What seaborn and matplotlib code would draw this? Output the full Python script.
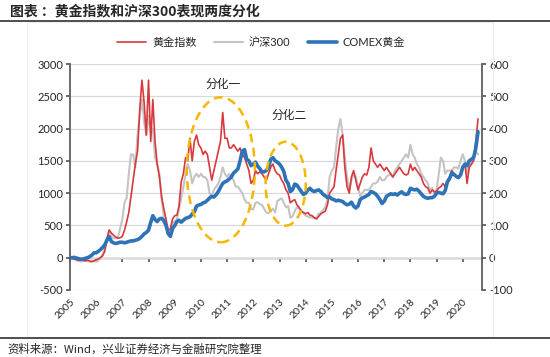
import pandas as pd
import matplotlib
matplotlib.use('Agg')
import matplotlib.pyplot as plt
import matplotlib.dates as mdates
from matplotlib.patches import Ellipse
import seaborn as sns

# monthly values (Jan 2005 .. Aug 2020)
gold_index = [
    0, -10, -20, -30, -40, -30, -40, -50, -40, -50, -60, -50,
    -30, -20, 0, 30, 100, 300, 430, 380, 350, 320, 300, 310,
    330, 430, 550, 700, 950, 1200, 1450, 1650, 2300, 2750, 2400, 1900,
    2750, 1800, 2450, 1800, 1450, 1250, 950, 760, 600, 420, 450, 600,
    650, 660, 800, 1175, 1300, 1550, 1500, 1850, 1500, 1800, 1900, 1750,
    1700, 1600, 1650, 1600, 1400, 1200, 1350, 1500, 1650, 1800, 2250, 1850,
    1850, 1700, 1700, 1750, 1700, 1650, 1700, 1600, 1550, 1450, 1350, 1150,
    1200, 1350, 1300, 1330, 1300, 1250, 1200, 1300, 1400, 1450, 1350, 1300,
    1280, 1200, 1150, 1050, 1000, 850, 880, 900, 820, 780, 720, 700,
    680, 700, 660, 650, 620, 600, 640, 680, 700, 720, 820, 1000,
    1050, 1100, 1350, 1600, 1850, 1900, 1400, 1100, 1000, 1250, 1350, 1200,
    1050, 1150, 1250, 1300, 1280, 1400, 1700, 1500, 1450, 1400, 1450, 1400,
    1350, 1400, 1350, 1300, 1250, 1300, 1350, 1400, 1350, 1300, 1280, 1300,
    1450, 1350, 1400, 1350, 1300, 1250, 1150, 1100, 1080, 1000, 1050, 1020,
    1030, 1080, 1100, 1150, 1100, 1200, 1250, 1350, 1300, 1250, 1250, 1300,
    1400, 1450, 1150, 1400, 1450, 1500, 1800, 2150,
]

hs300 = [
    0, -10, -20, -40, -50, -60, -50, -40, -50, -60, -60, -50,
    -60, -40, 0, 50, 150, 280, 380, 330, 300, 300, 320, 450,
    600, 860, 920, 1300, 1600, 1600, 1400, 1900, 2200, 2450, 2100, 1900,
    2200, 1950, 2000, 1550, 1450, 1300, 900, 650, 500, 350, 400, 550,
    560, 600, 750, 920, 1100, 1300, 1450, 1350, 1150, 1250, 1300, 1250,
    1300, 1250, 1250, 1200, 1000, 950, 1050, 1100, 1150, 1250, 1400, 1300,
    1250, 1300, 1250, 1200, 1100, 1100, 1050, 1000, 900, 850, 850, 750,
    750, 850, 860, 830, 820, 760, 700, 690, 720, 760, 700, 880,
    900, 920, 850, 780, 800, 620, 640, 720, 780, 760, 730, 690,
    650, 640, 620, 630, 610, 620, 680, 700, 740, 780, 900, 1250,
    1350, 1400, 1700, 2000, 2150, 1900, 1550, 1250, 1050, 1200, 1300, 1250,
    1100, 950, 1000, 1050, 1050, 1050, 1100, 1150, 1150, 1180, 1250, 1200,
    1200, 1250, 1280, 1300, 1250, 1350, 1400, 1450, 1500, 1550, 1600, 1550,
    1750, 1600, 1550, 1450, 1400, 1300, 1250, 1200, 1150, 1050, 1080, 1000,
    1050, 1300, 1550, 1500, 1300, 1350, 1350, 1350, 1400, 1400, 1380, 1500,
    1600, 1500, 1300, 1450, 1450, 1550, 1650, 1600,
]

comex_gold = [
    0, 0, 1, -1, -3, -5, -4, -2, 0, 3, 8, 15,
    15, 20, 25, 32, 40, 55, 65, 50, 46, 44, 46, 48,
    48, 46, 48, 50, 52, 52, 54, 56, 60, 66, 74, 78,
    85, 110, 130, 118, 112, 120, 122, 115, 100, 75, 66, 90,
    100, 112, 116, 110, 116, 122, 124, 127, 135, 142, 160, 163,
    165, 170, 172, 178, 185, 190, 188, 195, 205, 218, 230, 235,
    238, 244, 250, 262, 268, 275, 300, 330, 335, 305, 300, 285,
    290, 296, 284, 276, 266, 266, 270, 280, 305, 310, 300, 296,
    290, 280, 268, 240, 230, 205, 210, 228, 225, 215, 205, 196,
    200, 210, 215, 208, 205, 208, 210, 205, 196, 192, 186, 188,
    182, 180, 176, 178, 176, 174, 168, 164, 166, 172, 160, 154,
    160, 180, 185, 188, 192, 196, 205, 202, 198, 190, 180, 168,
    175, 190, 194, 198, 196, 198, 194, 200, 204, 198, 196, 198,
    215, 212, 210, 212, 206, 198, 190, 186, 184, 186, 186, 190,
    200, 202, 200, 198, 208, 235, 245, 262, 258, 252, 248, 256,
    280, 290, 285, 300, 305, 310, 340, 390,
]

dates = pd.date_range('2005-01-01', periods=len(gold_index), freq='MS')
df = pd.DataFrame({'date': dates, '黄金指数': gold_index,
                   '沪深300': hs300, 'COMEX黄金': comex_gold})

sns.set_theme(style='white')
plt.rcParams['font.family'] = ['Lato', 'Noto Sans CJK SC', 'DejaVu Sans']
plt.rcParams['axes.unicode_minus'] = False

fig = plt.figure(figsize=(5.5, 3.57), dpi=100)
ax = fig.add_axes([0.1273, 0.1877, 0.749, 0.633])
ax2 = ax.twinx()

sns.lineplot(data=df, x='date', y='沪深300', ax=ax, color='#C4C4C4', lw=1.5, label='沪深300')
sns.lineplot(data=df, x='date', y='黄金指数', ax=ax, color='#D8393C', lw=1.2, label='黄金指数')
sns.lineplot(data=df, x='date', y='COMEX黄金', ax=ax2, color='#2E72B8', lw=2.6, label='COMEX黄金')

# axes ranges / ticks
ax.set_ylim(-500, 3000)
ax.set_yticks(range(-500, 3001, 500))
ax2.set_ylim(-100, 600)
ax2.set_yticks(range(-100, 601, 100))
ax.set_xlim(pd.Timestamp('2005-01-01'), pd.Timestamp('2020-09-25'))
ax.xaxis.set_major_locator(mdates.YearLocator())
ax.xaxis.set_major_formatter(mdates.DateFormatter('%Y'))
ax.set_xlabel('')
ax.set_ylabel('')
ax2.set_ylabel('')

ax.yaxis.grid(True, color='#D9D9D9', lw=0.9)
ax.set_axisbelow(True)

for a in (ax, ax2):
    for s in a.spines.values():
        s.set_visible(False)
ax.spines['left'].set_visible(True)
ax.spines['left'].set_color('#595959')
ax2.spines['right'].set_visible(True)
ax2.spines['right'].set_color('#595959')

ax.tick_params(axis='y', direction='out', length=3, color='#595959', labelsize=8, pad=2, left=True)
ax2.tick_params(axis='y', direction='out', length=3, color='#595959', labelsize=8, pad=2, right=True)
ax.tick_params(axis='x', length=0, labelsize=7.5, pad=5)
for lab in ax.get_xticklabels():
    lab.set_rotation(45)
    lab.set_ha('right')
    lab.set_rotation_mode('anchor')

# x axis line crosses at zero
zero_axis = ax.secondary_xaxis(500 / 3500)
zero_axis.xaxis.set_major_locator(mdates.YearLocator())
zero_axis.tick_params(axis='x', direction='out', length=3, color='#595959', labelbottom=False, labeltop=False)
for s in zero_axis.spines.values():
    s.set_color('#7F7F7F')
    s.set_linewidth(1.0)

# divergence markers
ell_style = dict(fill=False, ec='#F5B700', lw=1.8, ls=(0, (3.5, 2.2)), transform=ax.transData, zorder=5)
ax2.add_patch(Ellipse((mdates.date2num(pd.Timestamp('2010-10-05')), 1362), width=950, height=2245, **ell_style))
ax2.add_patch(Ellipse((mdates.date2num(pd.Timestamp('2013-03-28')), 1146), width=560, height=1300, **ell_style))
ax.text(pd.Timestamp('2010-11-01'), 2690, '分化一', ha='center', va='center', fontsize=8.5,
        family=['Noto Sans CJK SC'])
ax.text(pd.Timestamp('2013-05-20'), 2210, '分化二', ha='center', va='center', fontsize=8.5,
        family=['Noto Sans CJK SC'])

# legend
for a in (ax, ax2):
    leg = a.get_legend()
    if leg:
        leg.remove()
h1, l1 = ax.get_legend_handles_labels()
h2, l2 = ax2.get_legend_handles_labels()
handles = [h1[1], h1[0], h2[0]]
labels = [l1[1], l1[0], l2[0]]
fig.legend(handles, labels, loc='center', bbox_to_anchor=(0.475, 0.882), ncol=3, frameon=False,
           fontsize=8, handlelength=2.6, columnspacing=1.6, handletextpad=0.5)

# title, rules and source
fig.text(0.018, 0.968, '图表 ：黄金指数和沪深300表现两度分化', fontsize=10, fontweight='bold',
         va='center', ha='left', family=['Noto Sans CJK SC', 'DejaVu Sans'])
fig.add_artist(plt.Line2D([0, 1], [0.942, 0.942], color='#404040', lw=1.3, transform=fig.transFigure))
fig.add_artist(plt.Line2D([0, 1], [0.053, 0.053], color='#404040', lw=1.3, transform=fig.transFigure))
fig.add_artist(plt.Rectangle((0.049, 0.055), 0.848, 0.882, fill=False, ec='#EDEDED', lw=0.8,
                             transform=fig.transFigure))
fig.text(0.014, 0.022, '资料来源：Wind，兴业证券经济与金融研究院整理', fontsize=8.2, va='center', ha='left',
         family=['Noto Sans CJK SC', 'DejaVu Sans'])

fig.savefig('out.png', dpi=100)
